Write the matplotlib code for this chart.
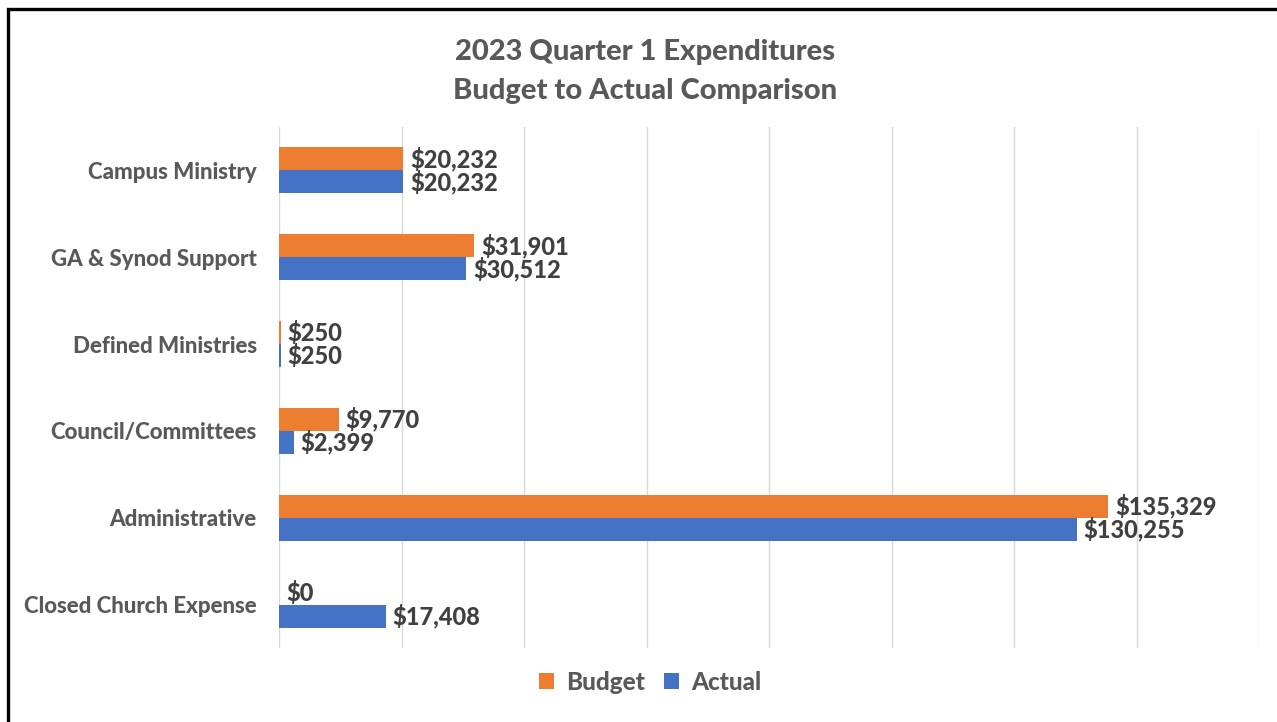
import matplotlib
matplotlib.use("Agg")
import matplotlib.pyplot as plt
import numpy as np
from matplotlib.lines import Line2D

categories = ["Campus Ministry", "GA & Synod Support", "Defined Ministries",
              "Council/Committees", "Administrative", "Closed Church Expense"]
budget = [20232, 31901, 250, 9770, 135329, 0]
actual = [20232, 30512, 250, 2399, 130255, 17408]
title_lines = ["2023 Quarter 1 Expenditures", "Budget to Actual Comparison"]
series_names = ["Budget", "Actual"]

plt.rcParams['font.family'] = ['Lato', 'DejaVu Sans']
W, H = 1277, 722
fig = plt.figure(figsize=(W / 100, H / 100), dpi=100)
fig.patch.set_facecolor("white")

ax = fig.add_axes([279 / W, 1 - 648 / H, (1259 - 279) / W, (648 - 127) / H])
y = np.arange(len(categories))
h = 0.265
c_budget = "#ED7D31"
c_actual = "#4472C4"
b1 = ax.barh(y - h / 2, budget, height=h, color=c_budget, label=series_names[0])
b2 = ax.barh(y + h / 2, actual, height=h, color=c_actual, label=series_names[1])

WT = "black"
lab_kw = dict(padding=5, fontsize=17, fontweight=WT, color="#404040")
ax.bar_label(b1, labels=[f"${v:,.0f}" for v in budget], **lab_kw)
ax.bar_label(b2, labels=[f"${v:,.0f}" for v in actual], **lab_kw)

ax.set_xlim(0, 160000)
ax.set_ylim(len(categories) - 0.5, -0.5)
ax.set_xticks(np.arange(0, 160001, 20000))
ax.xaxis.grid(True, color="#d9d9d9", linewidth=1)
ax.set_axisbelow(True)
ax.tick_params(axis="x", length=0, labelbottom=False)
ax.set_yticks(y)
ax.set_yticklabels(categories, fontsize=16, fontweight=WT, color="#595959")
ax.tick_params(axis="y", length=0, pad=16)
for s in ax.spines.values():
    s.set_visible(False)

fig.text(645 / W, 1 - 52 / H, title_lines[0], ha="center", va="center",
         fontsize=21, fontweight=WT, color="#595959")
fig.text(645 / W, 1 - 91 / H, title_lines[1], ha="center", va="center",
         fontsize=21, fontweight=WT, color="#595959")

fig.legend(handles=[b1, b2], labels=series_names, loc="center",
           bbox_to_anchor=(650 / W, 1 - 682 / H), ncol=2, frameon=False,
           prop=dict(size=17.5, weight=WT), labelcolor="#595959",
           handlelength=0.6, handleheight=0.6, handletextpad=0.5,
           columnspacing=0.8)

# figure border (top and left visible)
bx = 8 / W
by = 1 - 9 / H
fig.add_artist(Line2D([bx, bx, 1.0], [0.0, by, by], transform=fig.transFigure,
                      color="black", linewidth=2.4, solid_joinstyle="miter"))

fig.savefig("out.png", dpi=100, facecolor="white")
